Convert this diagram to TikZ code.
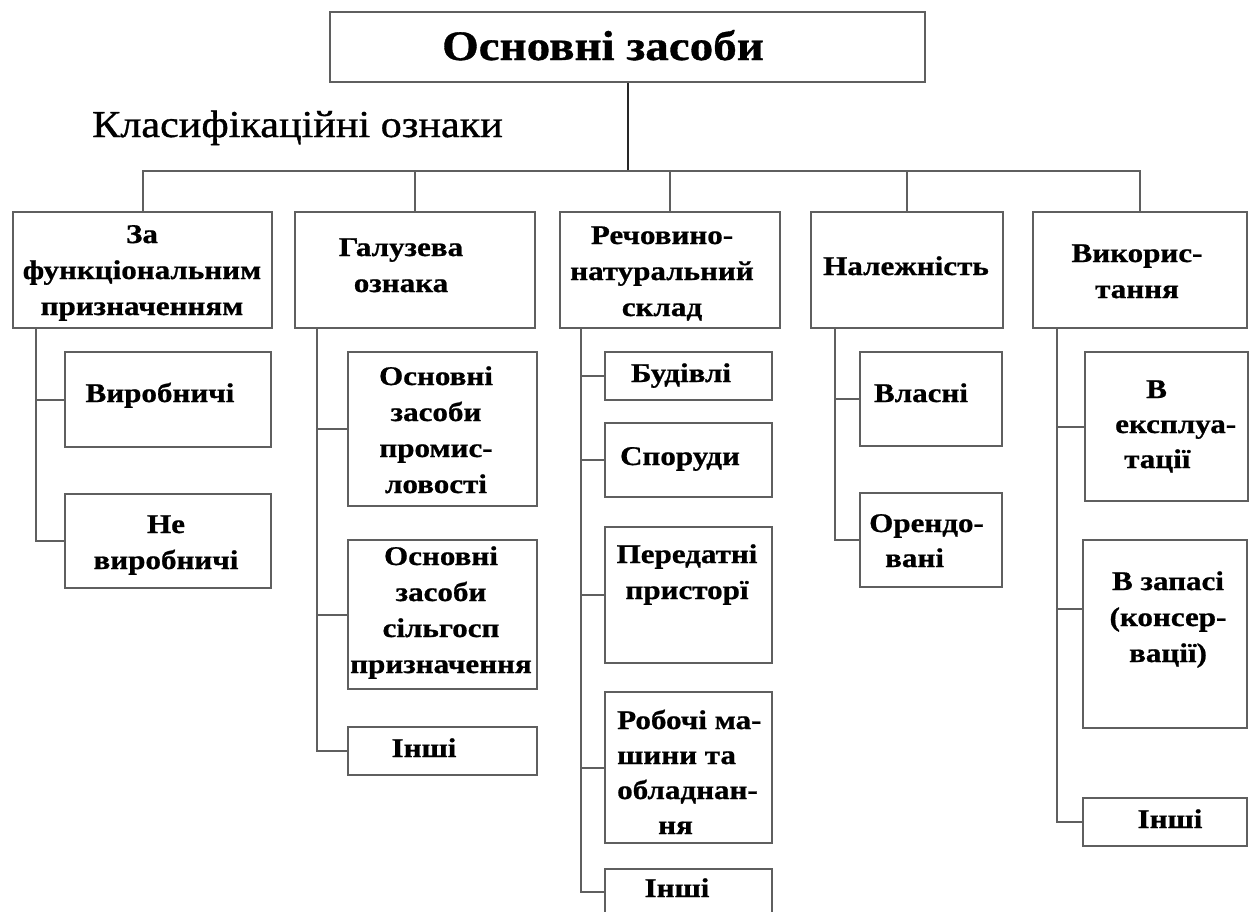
\documentclass[tikz,border=0pt]{standalone}
\usepackage{fontspec}
\setmainfont{Liberation Serif}
\newfontfamily\hdfont[FakeStretch=1.12, BoldFeatures={FakeBold=0.8}]{Liberation Serif}
\newfontfamily\clsfont[FakeStretch=1.11, FakeBold=0.9]{Liberation Serif}
\newfontfamily\bxfont[FakeStretch=1.15, BoldFeatures={FakeBold=0.8}]{Liberation Serif}
\usetikzlibrary{fit,calc}
\definecolor{lc}{RGB}{95,95,95}
\begin{document}
\begin{tikzpicture}[x=1pt,y=-1pt,
  bx/.style={draw=lc, line width=2.2pt, inner sep=0pt},
  ln/.style={draw=lc, line width=2pt},
  txt/.style={font=\bxfont\fontsize{27}{36}\selectfont\bfseries, align=center, inner sep=0pt, anchor=base},
  txl/.style={font=\bxfont\fontsize{27}{35}\selectfont\bfseries, align=left, inner sep=0pt, anchor=base west}]
\clip (0,0) rectangle (1253,911);
\fill[white] (0,0) rectangle (1253,911);
% title
\node[bx, fit={(330,12) (925,82)}] (top) {};
\node[font=\hdfont\fontsize{42}{50}\selectfont\bfseries, anchor=base, inner sep=0pt] (toptxt) at (603,60) {Основні засоби};
\node[font=\clsfont\fontsize{38}{44}\selectfont, anchor=base west, inner sep=0pt] (cls) at (92,137) {Класифікаційні ознаки};
% level 1
\node[bx, fit={(13,212) (272,328)}] (b1) {};
\node[txt] (b1t) at (142,315) {За\\функціональним\\призначенням};
\node[bx, fit={(295,212) (535,328)}] (b2) {};
\node[txt] (b2t) at (401,292) {Галузева\\ознака};
\node[bx, fit={(560,212) (780,328)}] (b3) {};
\node[txt] (b3t) at (662,316) {Речовино-\\натуральний\\склад};
\node[bx, fit={(811,212) (1003,328)}] (b4) {};
\node[txt] (b4t) at (906,275) {Належність};
\node[bx, fit={(1033,212) (1247,328)}] (b5) {};
\node[txt] (b5t) at (1137,298) {Викорис-\\тання};
% bus
\coordinate (bus) at (0,171);
\draw[line width=2pt, black!85] (top.south) -- (top.south |- bus);
\draw[ln] (b1.north) -- (b1.north |- bus) -- (b5.north |- bus) -- (b5.north);
\foreach \b in {b2,b3,b4} \draw[ln] (\b.north) -- (\b.north |- bus);
% column 1
\node[bx, fit={(65,352) (271,447)}] (c11) {};
\node[txt] (c11t) at (160,402) {Виробничі};
\node[bx, fit={(65,494) (271,588)}] (c12) {};
\node[txt] (c12t) at (166,569) {Не\\виробничі};
% column 2
\node[bx, fit={(348,352) (537,506)}] (c21) {};
\node[txt] (c21t) at (436,493) {Основні\\засоби\\промис-\\ловості};
\node[bx, fit={(348,540) (537,689)}] (c22) {};
\node[txt] (c22t) at (441,673) {Основні\\засоби\\сільгосп\\призначення};
\node[bx, fit={(348,727) (537,775)}] (c23) {};
\node[txt] (c23t) at (424,757) {Інші};
% column 3
\node[bx, fit={(605,352) (772,400)}] (c31) {};
\node[txt] (c31t) at (681,382) {Будівлі};
\node[bx, fit={(605,423) (772,497)}] (c32) {};
\node[txt] (c32t) at (680,465) {Споруди};
\node[bx, fit={(605,527) (772,663)}] (c33) {};
\node[txt] (c33t) at (687,599) {Передатні\\присторї};
\node[bx, fit={(605,692) (772,843)}] (c34) {};
\node[txl] (c34t) at (617,834) {Робочі ма-\\шини та\\обладнан-\\\hspace*{41pt}ня};
\node[bx, fit={(605,869) (772,940)}] (c35) {};
\node[txt] (c35t) at (677,897) {Інші};
% column 4
\node[bx, fit={(860,352) (1002,446)}] (c41) {};
\node[txt] (c41t) at (921,402) {Власні};
\node[bx, fit={(860,493) (1002,587)}] (c42) {};
\node[txl] (c42t) at (869,567) {Орендо-\\\hspace*{16pt}вані};
% column 5
\node[bx, fit={(1085,352) (1248,501)}] (c51) {};
\node[txl] (c51t) at (1115,468) {\hspace*{31pt}В\\експлуа-\\\hspace*{9pt}тації};
\node[bx, fit={(1083,540) (1247,728)}] (c52) {};
\node[txt] (c52t) at (1168,662) {В запасі\\(консер-\\вації)};
\node[bx, fit={(1083,798) (1247,846)}] (c53) {};
\node[txt] (c53t) at (1170,828) {Інші};
% connectors
\coordinate (v1) at ($(b1.south west)+(24,0)$);
\coordinate (v2) at ($(b2.south west)+(23,0)$);
\coordinate (v3) at ($(b3.south west)+(22,0)$);
\coordinate (v4) at ($(b4.south west)+(25,0)$);
\coordinate (v5) at ($(b5.south west)+(25,0)$);
\foreach \c in {c11,c12} \draw[ln] (v1) |- (\c.west);
\foreach \c in {c21,c22,c23} \draw[ln] (v2) |- (\c.west);
\draw[ln] (v3) |- (c35.west |- 0,892);
\foreach \c in {c31,c32,c33,c34} \draw[ln] (v3) |- (\c.west);
\foreach \c in {c41,c42} \draw[ln] (v4) |- (\c.west);
\draw[ln] (v5) |- (c52.west |- 0,609);
\foreach \c in {c51,c53} \draw[ln] (v5) |- (\c.west);
\end{tikzpicture}
\end{document}
